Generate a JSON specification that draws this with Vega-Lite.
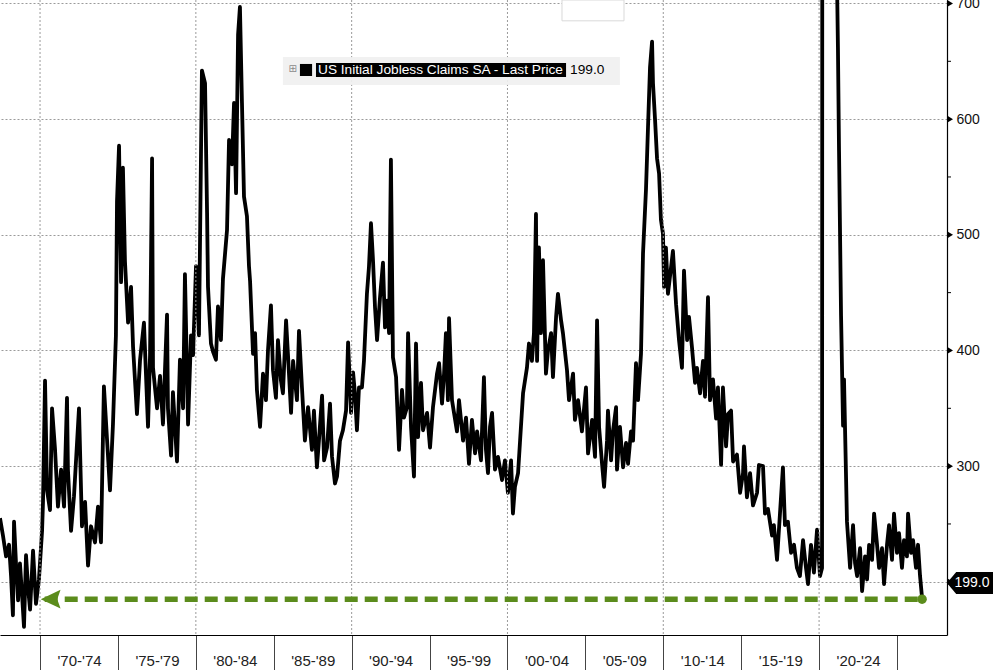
{
  "$schema": "https://vega.github.io/schema/vega-lite/v6.json",
  "width": 947,
  "height": 635,
  "autosize": "none",
  "padding": {"left": 0, "top": 0, "right": 47, "bottom": 35},
  "background": "#ffffff",
  "config": {"view": {"stroke": null}},
  "datasets": {
    "claims": [
      {"year":1967.43,"value":255},{"year":1967.62,"value":240},{"year":1967.82,"value":222},{"year":1968.01,"value":232},{"year":1968.14,"value":205},{"year":1968.26,"value":171},{"year":1968.33,"value":252},{"year":1968.46,"value":215},{"year":1968.59,"value":184},{"year":1968.71,"value":216},{"year":1968.84,"value":190},{"year":1968.97,"value":161},{"year":1969.10,"value":223},{"year":1969.23,"value":195},{"year":1969.36,"value":176},{"year":1969.55,"value":227},{"year":1969.74,"value":181},{"year":1969.93,"value":202},
      {"year":1970.13,"value":244},{"year":1970.19,"value":269},{"year":1970.32,"value":374},{"year":1970.45,"value":279},{"year":1970.64,"value":262},{"year":1970.77,"value":350},{"year":1970.96,"value":315},{"year":1971.15,"value":265},{"year":1971.35,"value":297},{"year":1971.54,"value":265},{"year":1971.73,"value":359},{"year":1971.79,"value":297},{"year":1971.99,"value":244},{"year":1972.18,"value":274},{"year":1972.50,"value":350},{"year":1972.69,"value":248},{"year":1972.89,"value":269},{"year":1973.08,"value":214},{"year":1973.27,"value":248},{"year":1973.53,"value":234},{"year":1973.72,"value":265},{"year":1973.91,"value":234},{"year":1974.10,"value":369},{"year":1974.30,"value":323},{"year":1974.49,"value":279},{"year":1974.68,"value":336},{"year":1974.87,"value":413},{"year":1974.94,"value":529},
      {"year":1975.07,"value":577},{"year":1975.20,"value":459},{"year":1975.32,"value":558},{"year":1975.45,"value":477},{"year":1975.65,"value":424},{"year":1975.84,"value":455},{"year":1975.97,"value":403},{"year":1976.22,"value":345},{"year":1976.42,"value":392},{"year":1976.67,"value":424},{"year":1976.93,"value":334},{"year":1977.06,"value":396},{"year":1977.19,"value":566},{"year":1977.25,"value":385},{"year":1977.51,"value":350},{"year":1977.70,"value":378},{"year":1977.89,"value":336},{"year":1978.15,"value":431},{"year":1978.21,"value":350},{"year":1978.41,"value":309},{"year":1978.53,"value":364},{"year":1978.79,"value":304},{"year":1978.98,"value":392},{"year":1979.18,"value":350},{"year":1979.30,"value":466},{"year":1979.50,"value":336},{"year":1979.69,"value":413},{"year":1979.82,"value":396},
      {"year":1980.01,"value":473},{"year":1980.20,"value":413},{"year":1980.33,"value":570},{"year":1980.39,"value":642},{"year":1980.59,"value":631},{"year":1980.72,"value":519},{"year":1980.78,"value":455},{"year":1980.97,"value":406},{"year":1981.10,"value":399},{"year":1981.29,"value":392},{"year":1981.42,"value":438},{"year":1981.61,"value":409},{"year":1981.74,"value":462},{"year":1982.00,"value":504},{"year":1982.13,"value":582},{"year":1982.32,"value":561},{"year":1982.45,"value":614},{"year":1982.58,"value":536},{"year":1982.71,"value":673},{"year":1982.83,"value":697},{"year":1982.96,"value":614},{"year":1983.09,"value":533},{"year":1983.28,"value":516},{"year":1983.41,"value":473},{"year":1983.48,"value":460},{"year":1983.67,"value":397},{"year":1983.80,"value":415},{"year":1983.92,"value":366},{"year":1984.12,"value":334},{"year":1984.31,"value":380},{"year":1984.50,"value":357},{"year":1984.63,"value":400},{"year":1984.82,"value":439},{"year":1984.95,"value":383},
      {"year":1985.14,"value":359},{"year":1985.27,"value":409},{"year":1985.46,"value":374},{"year":1985.59,"value":363},{"year":1985.79,"value":426},{"year":1985.91,"value":397},{"year":1986.11,"value":346},{"year":1986.24,"value":391},{"year":1986.49,"value":357},{"year":1986.62,"value":417},{"year":1986.81,"value":368},{"year":1987.00,"value":322},{"year":1987.20,"value":351},{"year":1987.45,"value":314},{"year":1987.58,"value":348},{"year":1987.77,"value":299},{"year":1987.90,"value":322},{"year":1988.10,"value":361},{"year":1988.23,"value":305},{"year":1988.42,"value":316},{"year":1988.61,"value":354},{"year":1988.74,"value":308},{"year":1988.93,"value":285},{"year":1989.06,"value":291},{"year":1989.25,"value":322},{"year":1989.44,"value":331},{"year":1989.64,"value":348},{"year":1989.77,"value":407},{"year":1989.96,"value":346},
      {"year":1990.09,"value":381},{"year":1990.21,"value":363},{"year":1990.34,"value":331},{"year":1990.47,"value":368},{"year":1990.66,"value":368},{"year":1990.79,"value":391},{"year":1990.98,"value":449},{"year":1991.11,"value":472},{"year":1991.24,"value":510},{"year":1991.37,"value":478},{"year":1991.50,"value":437},{"year":1991.63,"value":409},{"year":1991.82,"value":446},{"year":1992.01,"value":476},{"year":1992.14,"value":420},{"year":1992.27,"value":443},{"year":1992.40,"value":415},{"year":1992.52,"value":565},{"year":1992.65,"value":394},{"year":1992.85,"value":377},{"year":1993.04,"value":314},{"year":1993.23,"value":366},{"year":1993.36,"value":342},{"year":1993.55,"value":351},{"year":1993.62,"value":415},{"year":1993.81,"value":334},{"year":1994.00,"value":291},{"year":1994.13,"value":406},{"year":1994.26,"value":325},{"year":1994.45,"value":372},{"year":1994.58,"value":331},{"year":1994.84,"value":346},
      {"year":1995.03,"value":316},{"year":1995.22,"value":351},{"year":1995.48,"value":380},{"year":1995.61,"value":389},{"year":1995.80,"value":354},{"year":1995.93,"value":380},{"year":1996.05,"value":415},{"year":1996.18,"value":357},{"year":1996.25,"value":428},{"year":1996.44,"value":357},{"year":1996.57,"value":346},{"year":1996.76,"value":330},{"year":1996.89,"value":357},{"year":1997.15,"value":322},{"year":1997.34,"value":342},{"year":1997.53,"value":302},{"year":1997.72,"value":340},{"year":1997.92,"value":311},{"year":1998.05,"value":330},{"year":1998.30,"value":305},{"year":1998.49,"value":377},{"year":1998.62,"value":314},{"year":1998.75,"value":294},{"year":1998.88,"value":334},{"year":1999.01,"value":346},{"year":1999.20,"value":297},{"year":1999.39,"value":308},{"year":1999.65,"value":288},{"year":1999.84,"value":305},
      {"year":2000.03,"value":277},{"year":2000.23,"value":305},{"year":2000.35,"value":259},{"year":2000.48,"value":282},{"year":2000.68,"value":294},{"year":2000.80,"value":320},{"year":2001.00,"value":363},{"year":2001.25,"value":385},{"year":2001.38,"value":406},{"year":2001.57,"value":391},{"year":2001.70,"value":415},{"year":2001.83,"value":518},{"year":2001.90,"value":391},{"year":2002.02,"value":489},{"year":2002.15,"value":415},{"year":2002.28,"value":478},{"year":2002.47,"value":380},{"year":2002.60,"value":400},{"year":2002.80,"value":415},{"year":2002.92,"value":377},{"year":2003.12,"value":429},{"year":2003.24,"value":449},{"year":2003.44,"value":426},{"year":2003.56,"value":415},{"year":2003.82,"value":383},{"year":2003.95,"value":357},{"year":2004.21,"value":380},{"year":2004.33,"value":340},{"year":2004.53,"value":357},{"year":2004.78,"value":330},
      {"year":2005.04,"value":368},{"year":2005.17,"value":311},{"year":2005.43,"value":340},{"year":2005.62,"value":308},{"year":2005.75,"value":426},{"year":2005.88,"value":334},{"year":2006.07,"value":302},{"year":2006.20,"value":282},{"year":2006.39,"value":322},{"year":2006.45,"value":348},{"year":2006.65,"value":305},{"year":2006.77,"value":330},{"year":2006.97,"value":351},{"year":2007.03,"value":297},{"year":2007.22,"value":334},{"year":2007.42,"value":299},{"year":2007.61,"value":320},{"year":2007.74,"value":302},{"year":2007.93,"value":330},{"year":2008.06,"value":322},{"year":2008.25,"value":389},{"year":2008.38,"value":357},{"year":2008.57,"value":397},{"year":2008.70,"value":484},{"year":2008.89,"value":539},{"year":2009.02,"value":593},{"year":2009.15,"value":645},{"year":2009.28,"value":667},{"year":2009.34,"value":631},{"year":2009.47,"value":600},{"year":2009.60,"value":566},{"year":2009.73,"value":553},{"year":2009.85,"value":513},{"year":2009.98,"value":501},
      {"year":2010.05,"value":455},{"year":2010.17,"value":489},{"year":2010.30,"value":449},{"year":2010.50,"value":472},{"year":2010.62,"value":486},{"year":2010.82,"value":440},{"year":2011.01,"value":409},{"year":2011.20,"value":385},{"year":2011.33,"value":469},{"year":2011.53,"value":409},{"year":2011.65,"value":429},{"year":2011.84,"value":403},{"year":2012.04,"value":372},{"year":2012.16,"value":385},{"year":2012.36,"value":363},{"year":2012.55,"value":391},{"year":2012.68,"value":360},{"year":2012.87,"value":446},{"year":2013.00,"value":357},{"year":2013.19,"value":375},{"year":2013.39,"value":341},{"year":2013.51,"value":368},{"year":2013.71,"value":301},{"year":2013.83,"value":368},{"year":2014.03,"value":317},{"year":2014.16,"value":345},{"year":2014.35,"value":348},{"year":2014.48,"value":304},{"year":2014.73,"value":310},{"year":2014.93,"value":277},
      {"year":2015.12,"value":294},{"year":2015.18,"value":317},{"year":2015.37,"value":273},{"year":2015.57,"value":294},{"year":2015.76,"value":266},{"year":2016.02,"value":277},{"year":2016.14,"value":301},{"year":2016.40,"value":300},{"year":2016.53,"value":259},{"year":2016.72,"value":263},{"year":2016.98,"value":240},{"year":2017.10,"value":249},{"year":2017.30,"value":219},{"year":2017.49,"value":259},{"year":2017.68,"value":299},{"year":2017.81,"value":249},{"year":2018.00,"value":252},{"year":2018.20,"value":225},{"year":2018.39,"value":232},{"year":2018.58,"value":212},{"year":2018.77,"value":205},{"year":2018.97,"value":236},{"year":2019.16,"value":212},{"year":2019.29,"value":198},{"year":2019.48,"value":232},{"year":2019.67,"value":208},{"year":2019.87,"value":245},
      {"year":2020.06,"value":205},{"year":2020.19,"value":212},{"year":2020.25,"value":2500},{"year":2020.32,"value":6100},{"year":2020.44,"value":3000},{"year":2020.70,"value":1500},{"year":2020.96,"value":900},{"year":2021.15,"value":720},{"year":2021.21,"value":662},{"year":2021.28,"value":573},{"year":2021.41,"value":430},{"year":2021.54,"value":335},{"year":2021.60,"value":375},{"year":2021.79,"value":252},{"year":2021.99,"value":212},{"year":2022.18,"value":249},{"year":2022.31,"value":216},{"year":2022.44,"value":205},{"year":2022.63,"value":229},{"year":2022.76,"value":192},{"year":2022.95,"value":222},{"year":2023.08,"value":202},{"year":2023.21,"value":232},{"year":2023.40,"value":219},{"year":2023.53,"value":259},{"year":2023.72,"value":232},{"year":2023.85,"value":212},{"year":2024.04,"value":229},{"year":2024.17,"value":198},{"year":2024.36,"value":232},{"year":2024.49,"value":249},{"year":2024.68,"value":219},{"year":2024.81,"value":259},
      {"year":2025.00,"value":225},{"year":2025.13,"value":242},{"year":2025.32,"value":212},{"year":2025.45,"value":236},{"year":2025.64,"value":222},{"year":2025.71,"value":259},{"year":2025.90,"value":225},{"year":2026.03,"value":236},{"year":2026.22,"value":212},{"year":2026.35,"value":232},{"year":2026.48,"value":205},{"year":2026.61,"value":186}
    ],
    "decades": [{"year":1970},{"year":1980},{"year":1990},{"year":2000},{"year":2010},{"year":2020}],
    "majorTicks": [{"value":200},{"value":300},{"value":400},{"value":500},{"value":600},{"value":700}],
    "minorTicks": [{"value":250},{"value":350},{"value":450},{"value":550},{"value":650}]
  },
  "layer": [
    {
      "data": {"name": "claims"},
      "mark": {"type": "line", "color": "#000000", "strokeWidth": 3.8, "strokeJoin": "round", "clip": true},
      "encoding": {
        "x": {
          "field": "year", "type": "quantitative",
          "scale": {"domain": [1967.43, 2028.21], "nice": false, "zero": false},
          "axis": {
            "title": null,
            "values": [1970, 1975, 1980, 1985, 1990, 1995, 2000, 2005, 2010, 2015, 2020, 2025],
            "grid": false,
            "domainColor": "#000000", "domainWidth": 1.2,
            "tickSize": 35, "tickColor": "#444444", "tickWidth": 1,
            "labelOffset": 39, "labelPadding": -10, "labelBaseline": "middle",
            "labelFlush": false, "labelOverlap": false, "labelBound": false,
            "labelFont": "Liberation Sans", "labelFontSize": 15, "labelColor": "#222222",
            "labelExpr": "datum.value < 2024 ? \"'\" + slice(toString(datum.value), 2) + \"-'\" + slice(toString(datum.value + 4), 2) : ''"
          }
        },
        "y": {
          "field": "value", "type": "quantitative",
          "scale": {"domain": [154, 703], "nice": false, "zero": false},
          "axis": {
            "title": null, "orient": "right",
            "values": [200, 300, 400, 500, 600, 700],
            "grid": true, "gridColor": "#9a9a9a", "gridDash": [2, 2], "gridWidth": 1,
            "ticks": false,
            "domainColor": "#000000", "domainWidth": 1.2,
            "labelPadding": 9, "labelOverlap": false, "labelBound": false,
            "labelFont": "Liberation Sans", "labelFontSize": 14, "labelColor": "#111111",
            "labelExpr": "datum.value == 200 ? '' : datum.label"
          }
        }
      }
    },
    {
      "data": {"name": "decades"},
      "mark": {"type": "rule", "color": "#9a9a9a", "strokeDash": [2, 2], "strokeWidth": 1, "zindex": 0},
      "encoding": {
        "x": {"field": "year", "type": "quantitative"}
      }
    },
    {
      "data": {"values": [{}]},
      "mark": {"type": "rect", "fill": "#ffffff", "stroke": "#d9d9d9", "strokeWidth": 1},
      "encoding": {
        "x": {"datum": 2003.5, "type": "quantitative"},
        "x2": {"datum": 2007.48},
        "y": {"datum": 685, "type": "quantitative"},
        "y2": {"datum": 703}
      }
    },
    {
      "data": {"values": [{}]},
      "mark": {"type": "rule", "color": "#5b8c1c", "strokeWidth": 5.5, "strokeDash": [13, 7]},
      "encoding": {
        "x": {"datum": 1970.3, "type": "quantitative"},
        "x2": {"datum": 2026.61},
        "y": {"datum": 185, "type": "quantitative"}
      }
    },
    {
      "data": {"values": [{}]},
      "mark": {"type": "point", "shape": "M-0.9,0 L0.9,-0.85 L0.6,0 L0.9,0.85 Z", "size": 484, "filled": true, "color": "#5b8c1c", "opacity": 1},
      "encoding": {
        "x": {"datum": 1970.68, "type": "quantitative"},
        "y": {"datum": 185, "type": "quantitative"}
      }
    },
    {
      "data": {"values": [{}]},
      "mark": {"type": "point", "shape": "circle", "size": 90, "filled": true, "color": "#5b8c1c", "opacity": 1},
      "encoding": {
        "x": {"datum": 2026.61, "type": "quantitative"},
        "y": {"datum": 185, "type": "quantitative"}
      }
    },
    {
      "data": {"values": [{}]},
      "mark": {"type": "rect", "fill": "#f0f0f0", "opacity": 0.92},
      "encoding": {
        "x": {"datum": 1985.59, "type": "quantitative"},
        "x2": {"datum": 2007.22},
        "y": {"datum": 629.5, "type": "quantitative"},
        "y2": {"datum": 653.7}
      }
    },
    {
      "data": {"values": [{}]},
      "mark": {"type": "rect", "fill": "#000000"},
      "encoding": {
        "x": {"datum": 1986.68, "type": "quantitative"},
        "x2": {"datum": 1987.46},
        "y": {"datum": 637.3, "type": "quantitative"},
        "y2": {"datum": 647.7}
      }
    },
    {
      "data": {"values": [{}]},
      "mark": {"type": "rect", "fill": "#000000"},
      "encoding": {
        "x": {"datum": 1987.71, "type": "quantitative"},
        "x2": {"datum": 2003.76},
        "y": {"datum": 636.4, "type": "quantitative"},
        "y2": {"datum": 648.5}
      }
    },
    {
      "data": {"values": [{"label": "⊞"}]},
      "mark": {"type": "text", "align": "center", "baseline": "middle", "font": "DejaVu Sans", "fontSize": 10, "color": "#8a8a8a"},
      "encoding": {
        "x": {"datum": 1986.21, "type": "quantitative"},
        "y": {"datum": 643.3, "type": "quantitative"},
        "text": {"field": "label"}
      }
    },
    {
      "data": {"values": [{"label": "US Initial Jobless Claims SA - Last Price"}]},
      "mark": {"type": "text", "align": "left", "baseline": "middle", "font": "Liberation Sans", "fontSize": 13.7, "color": "#ffffff"},
      "encoding": {
        "x": {"datum": 1987.84, "type": "quantitative"},
        "y": {"datum": 642.5, "type": "quantitative"},
        "text": {"field": "label"}
      }
    },
    {
      "data": {"values": [{"label": "199.0"}]},
      "mark": {"type": "text", "align": "left", "baseline": "middle", "font": "Liberation Sans", "fontSize": 13.7, "color": "#000000"},
      "encoding": {
        "x": {"datum": 2004.02, "type": "quantitative"},
        "y": {"datum": 642.5, "type": "quantitative"},
        "text": {"field": "label"}
      }
    },
    {
      "data": {"name": "majorTicks"},
      "mark": {"type": "point", "shape": "M0,-0.6 L1,0 L0,0.6 Z", "size": 144, "filled": true, "color": "#000000", "opacity": 1},
      "encoding": {
        "x": {"datum": 2028.21, "type": "quantitative"},
        "y": {"field": "value", "type": "quantitative"}
      }
    },
    {
      "data": {"name": "minorTicks"},
      "mark": {"type": "point", "shape": "M0,0 L1,0", "size": 64, "filled": false, "color": "#000000", "strokeWidth": 1, "opacity": 1},
      "encoding": {
        "x": {"datum": 2028.21, "type": "quantitative"},
        "y": {"field": "value", "type": "quantitative"}
      }
    },
    {
      "data": {"values": [{}]},
      "mark": {"type": "point", "shape": "M0,0 L0.2,-0.24 L1,-0.24 L1,0.24 L0.2,0.24 Z", "size": 8464, "filled": true, "color": "#000000", "opacity": 1},
      "encoding": {
        "x": {"datum": 2028.21, "type": "quantitative"},
        "y": {"datum": 199, "type": "quantitative"}
      }
    },
    {
      "data": {"values": [{"label": "199.0"}]},
      "mark": {"type": "text", "align": "center", "baseline": "middle", "dx": 25, "font": "Liberation Sans", "fontSize": 14, "color": "#ffffff"},
      "encoding": {
        "x": {"datum": 2028.21, "type": "quantitative"},
        "y": {"datum": 199, "type": "quantitative"},
        "text": {"field": "label"}
      }
    }
  ]
}
